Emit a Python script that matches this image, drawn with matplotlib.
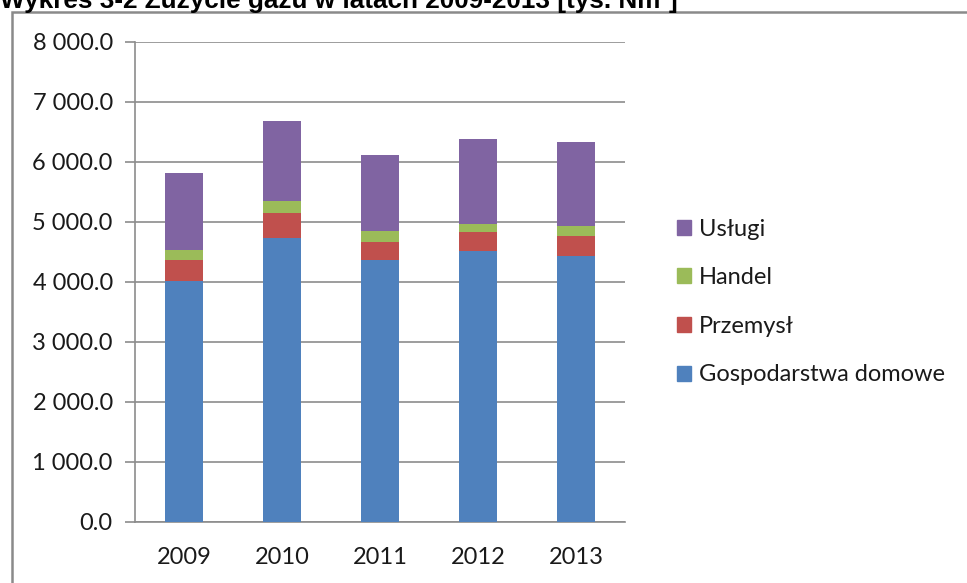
import numpy as np
import matplotlib
matplotlib.use("Agg")
import matplotlib.pyplot as plt
from matplotlib.patches import Rectangle, Patch
from matplotlib.ticker import FuncFormatter

# dane [tys. Nm3]
lata = ["2009", "2010", "2011", "2012", "2013"]
gospodarstwa = [4017, 4728, 4367, 4511, 4428]
przemysl = [344, 427, 294, 322, 344]
handel = [172, 195, 194, 134, 167]
uslugi = [1284, 1333, 1262, 1416, 1394]

serie = ["Gospodarstwa domowe", "Przemysł", "Handel", "Usługi"]
kolory = ["#4F81BD", "#C0504D", "#9BBB59", "#8064A2"]

plt.rcParams['font.family'] = ['Lato', 'DejaVu Sans']

fig = plt.figure(figsize=(9.67, 5.83), dpi=100)
ax = fig.add_axes([135 / 967, 1 - 522 / 583, 490 / 967, 480 / 583])

x = np.arange(len(lata))
dol = np.zeros(len(lata))
for wart, kol, nazwa in zip([gospodarstwa, przemysl, handel, uslugi], kolory, serie):
    ax.bar(x, wart, width=0.39, bottom=dol, color=kol, label=nazwa, zorder=3)
    dol = dol + np.array(wart)

ax.set_xlim(-0.5, len(lata) - 0.5)
ax.set_ylim(0, 8000)
ax.set_yticks(np.arange(0, 8001, 1000))
ax.yaxis.set_major_formatter(FuncFormatter(lambda v, p: "{:,.1f}".format(v).replace(",", " ")))
ax.set_xticks(x)
ax.set_xticklabels(lata)
ax.grid(axis='y', color='#8c8c8c', linewidth=1.2, zorder=0)

for s in ['top', 'right']:
    ax.spines[s].set_visible(False)
ax.spines['left'].set_color('#8c8c8c')
ax.spines['bottom'].set_color('#8c8c8c')
ax.spines['left'].set_linewidth(1.2)
ax.spines['bottom'].set_linewidth(1.2)
ax.tick_params(axis='y', length=7, color='#8c8c8c', width=1.2, labelsize=17, pad=9, labelcolor='#1a1a1a')
ax.tick_params(axis='x', length=0, labelsize=17, pad=18, labelcolor='#1a1a1a')

# legenda w odwrotnej kolejnosci
uchwyty = [Patch(color=k, label=n) for k, n in zip(kolory[::-1], serie[::-1])]
fig.legend(handles=uchwyty, loc='upper left', bbox_to_anchor=(660 / 967, 1 - 202 / 583),
           frameon=False, fontsize=17, handlelength=0.6, handleheight=0.6,
           handletextpad=0.35, labelspacing=1.17, labelcolor='#1a1a1a', borderpad=0.2)

# ramka
fig.add_artist(Rectangle((12 / 967, -0.1), 1.2, 1.1 - 12 / 583, transform=fig.transFigure,
                         fill=False, edgecolor='#8a8a8a', linewidth=1.8))

fig.text(0.0, 1 - 8 / 583, "Wykres 3-2 Zużycie gazu w latach 2009-2013 [tys. Nm³]",
         family=['Liberation Sans', 'DejaVu Sans'], fontweight='bold', fontsize=18.8,
         va='baseline', ha='left')

fig.savefig("out.png", dpi=100)
